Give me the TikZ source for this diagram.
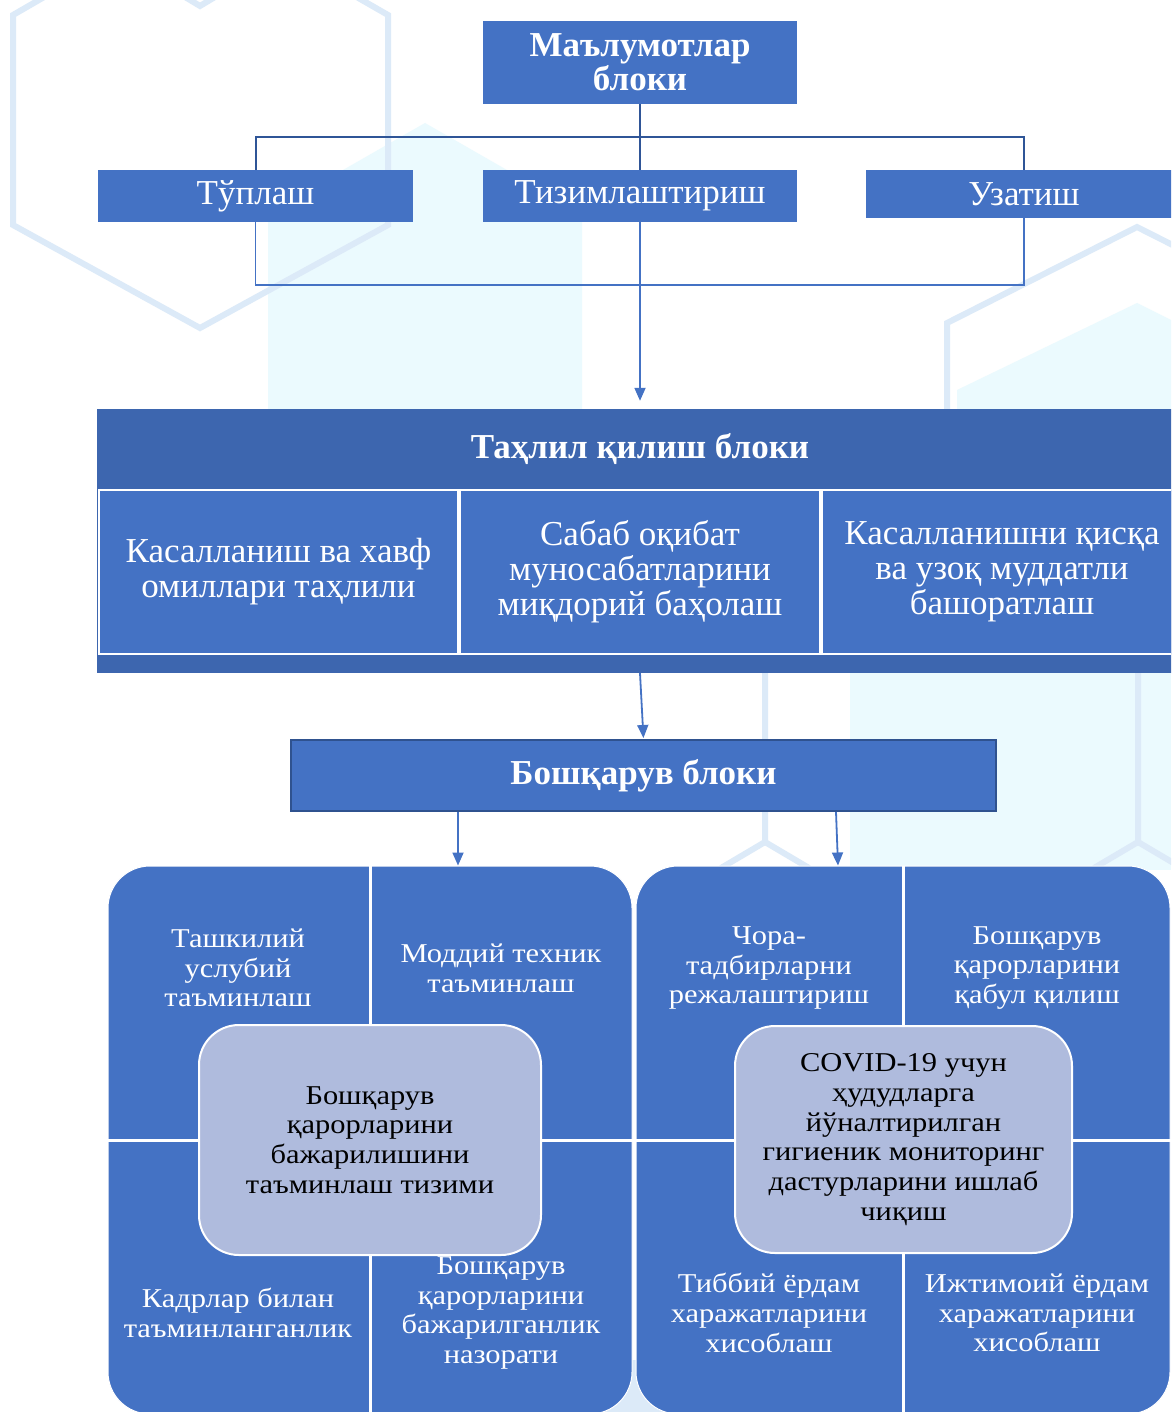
\documentclass[tikz,border=0pt]{standalone}
\usepackage{fontspec}
\setmainfont{Liberation Serif}
\newfontfamily\wideserif[FakeStretch=1.12]{Liberation Serif}
\usetikzlibrary{arrows.meta}
\definecolor{mainblue}{HTML}{4472C4}
\definecolor{darkband}{HTML}{3D66AF}
\definecolor{linedark}{HTML}{2F5597}
\definecolor{navy}{HTML}{2F528F}
\definecolor{lav}{HTML}{AFBBDD}
\definecolor{hexline}{HTML}{DCEAF8}
\definecolor{hexfill}{HTML}{EBFAFE}
\newcommand\fTop{\fontsize{35}{38}\selectfont}
\newcommand\fData{\bfseries\fontsize{35}{34}\selectfont}
\newcommand\fCell{\fontsize{35}{35}\selectfont}
\newcommand\fQuad{\wideserif\fontsize{27.2}{29.7}\selectfont}
\begin{document}
\begin{tikzpicture}[x=1pt,y=-1pt,
  blk/.style={fill=mainblue, text=white, inner sep=0pt, align=center},
  cellbox/.style={fill=mainblue, draw=white, line width=2pt, text=white, inner sep=0pt, align=center, font=\fCell},
  grp/.style={fill=mainblue, draw=white, line width=1pt, rounded corners=42pt, inner sep=0pt},
  ctrbox/.style={fill=lav, draw=white, line width=2pt, rounded corners=40pt, inner sep=0pt, align=center, text=black, font=\fQuad},
  qtext/.style={text=white, align=center, inner sep=0pt, font=\fQuad},
  topconn/.style={draw=linedark, line width=2pt},
  subconn/.style={draw=mainblue, line width=1.3pt},
  arr/.style={draw=mainblue, line width=1.8pt, -{Triangle[length=13pt,width=11pt]}},
  divider/.style={draw=white, line width=3pt}
]
\useasboundingbox (0,0) rectangle (1171,1412);
\begin{scope}
\clip (0,0) rectangle (1171,1412);
\fill[white] (0,0) rectangle (1171,1412);
% background decoration
\fill[hexfill] (268,213) -- (425,123) -- (582,213) -- (582,480) -- (268,480) -- cycle;
\draw[hexline, line width=6pt] (13,225) -- (200,328) -- (388,225) -- (388,15) -- (200,-93) -- (13,15) -- cycle;
\draw[hexline, line width=6pt] (180,-6) -- (200,6) -- (220,-6);
\fill[hexfill] (957,420) -- (957,390) -- (1137,303) -- (1171,320) -- (1171,420) -- cycle;
\draw[hexline, line width=6pt] (947,420) -- (947,323) -- (1137,227) -- (1327,323);
\fill[hexfill] (850,673) -- (1171,673) -- (1171,870) -- (850,870) -- cycle;
\draw[hexline, line width=6pt] (765,673) -- (765,842) -- (721,868);
\draw[hexline, line width=6pt] (765,842) -- (809,868);
\draw[hexline, line width=6pt] (1138,673) -- (1138,842) -- (1094,868);
\draw[hexline, line width=6pt] (1138,842) -- (1182,868);
\fill[hexline] (590,1360) rectangle (680,1412);

% data block
\node[blk, minimum width=314pt, minimum height=83pt, font=\fData] (data) at (640,62.5) {Маълумотлар\\блоки};
\node[blk, minimum width=315pt, minimum height=52pt, font=\fTop] (tup) at (255.5,196) {Тўплаш};
\node[blk, minimum width=314pt, minimum height=52pt, font=\fTop] (tiz) at (640,196) {Тизимлаштириш};
\node[blk, minimum width=316pt, minimum height=48pt, font=\fTop] (uz) at (1024,194) {Узатиш};
\coordinate (bus) at (640,137);
\coordinate (bus2) at (640,285);
\draw[topconn] (data.south) -- (tiz.north);
\draw[topconn] (tup.north) |- (bus) -| (uz.north);
\draw[subconn] (tup.south) |- (bus2) -| (uz.south);
\draw[subconn] (tiz.south) -- (bus2);

% analysis block
\node[fill=darkband, minimum width=1086pt, minimum height=264pt, inner sep=0pt] (anl) at (640,541) {};
\node[text=white, inner sep=0pt, font=\fData] (anltitle) at (640,449) {Таҳлил қилиш блоки};
\node[cellbox, minimum width=359pt, minimum height=164pt] (c1) at (278.5,572) {Касалланиш ва хавф\\омиллари таҳлили};
\node[cellbox, minimum width=360pt, minimum height=164pt] (c2) at (640,572) {Сабаб оқибат\\муносабатларини\\миқдорий баҳолаш};
\node[cellbox, minimum width=360pt, minimum height=164pt] (c3) at (1002,572) {Касалланишни қисқа\\ва узоқ муддатли\\башоратлаш};
\draw[arr, shorten >=8pt] (bus2) -- (anl.north);

% control block
\node[blk, draw=navy, line width=2pt, minimum width=705pt, minimum height=71pt, font=\fData] (ctrl) at (643.5,775.5) {Бошқарув блоки};
\draw[arr, shorten >=1pt] (anl.south) -- (ctrl.north);

% groups
\node[grp, minimum width=524pt, minimum height=548pt] (lg) at (370,1140) {};
\node[grp, minimum width=534pt, minimum height=548pt] (rg) at (903,1140) {};
\draw[divider] (lg.north) -- (lg.south);
\draw[divider] (lg.west) -- (lg.east);
\draw[divider] (rg.north) -- (rg.south);
\draw[divider] (rg.west) -- (rg.east);
\draw[arr] ([xshift=-185.5pt]ctrl.south) -- ([xshift=-185.5pt]ctrl.south |- lg.north);
\draw[arr] ([xshift=192.5pt]ctrl.south) -- ([xshift=194.5pt]ctrl.south |- rg.north);

\node[qtext] (l1) at (238,968) {Ташкилий\\услубий\\таъминлаш};
\node[qtext] (l2) at (501,968) {Моддий техник\\таъминлаш};
\node[qtext] (l3) at (238,1313) {Кадрлар билан\\таъминланганлик};
\node[qtext] (l4) at (501,1313) {Бошқарув\\қарорларини\\бажарилганлик\\назорати};
\node[ctrbox, minimum width=342pt, minimum height=230pt] (lc) at (370,1140) {Бошқарув\\қарорларини\\бажарилишини\\таъминлаш тизими};

\node[qtext] (r1) at (769,968) {Чора-\\тадбирларни\\режалаштириш};
\node[qtext] (r2) at (1037,968) {Бошқарув\\қарорларини\\қабул қилиш};
\node[qtext] (r3) at (769,1313) {Тиббий ёрдам\\харажатларини\\хисоблаш};
\node[qtext] (r4) at (1037,1313) {Ижтимоий ёрдам\\харажатларини\\хисоблаш};
\node[ctrbox, minimum width=337pt, minimum height=227pt] (rc) at (903.5,1139.5) {COVID-19 учун\\ҳудудларга\\йўналтирилган\\гигиеник мониторинг\\дастурларини ишлаб\\чиқиш};
\end{scope}
\end{tikzpicture}
\end{document}
